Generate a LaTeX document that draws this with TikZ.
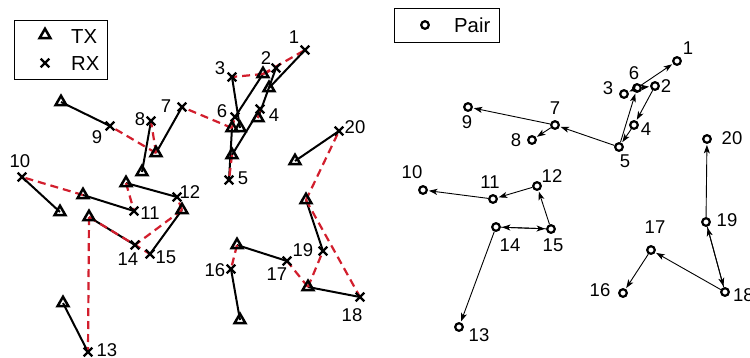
\documentclass[tikz,border=0pt]{standalone}
\usepackage{fontspec}
\setmainfont{Liberation Sans}
\usetikzlibrary{shapes.geometric,shapes.misc,arrows.meta}
\pgfdeclarelayer{bg}
\pgfdeclarelayer{lines}
\pgfsetlayers{bg,lines,main}
\definecolor{dred}{RGB}{210,30,45}
\tikzset{
 tx/.style={regular polygon, regular polygon sides=3, draw, line width=2.5pt, minimum size=12.5pt, inner sep=0pt},
 rx/.style={cross out, draw, line width=2.2pt, minimum size=6.5pt, inner sep=0pt},
 pr/.style={circle, draw, line width=2.2pt, minimum size=7.6pt, inner sep=0pt},
 lbl/.style={inner sep=0pt, font=\fontsize{18.5}{20}\selectfont},
 legtxt/.style={inner sep=0pt, anchor=west, font=\fontsize{20.3}{22}\selectfont},
 link/.style={line width=2pt, black},
 intf/.style={line width=2.2pt, dred, dash pattern=on 8pt off 5pt},
 arr/.style={line width=0.9pt, -{Stealth[length=8.5pt,width=6pt,inset=2.2pt]}, shorten >=1pt},
 legbox/.style={draw, line width=0.8pt, inner sep=0pt}
}
\begin{document}
\begin{tikzpicture}[x=1pt,y=-1pt]
\begin{pgfonlayer}{bg}
\fill[white] (0,0) rectangle (750,357);
\end{pgfonlayer}
\useasboundingbox (0,0) rectangle (750,357);
% ---------- left panel: receivers ----------
\node[rx] (r1) at (305,50) {};
\node[rx] (r2) at (276,68) {};
\node[rx] (r3) at (232,77) {};
\node[rx] (r4) at (260,109) {};
\node[rx] (r5) at (229,180) {};
\node[rx] (r6) at (235,117) {};
\node[rx] (r7) at (182,107) {};
\node[rx] (r8) at (151,121) {};
\node[rx] (r9) at (110,126) {};
\node[rx] (r10) at (22,177) {};
\node[rx] (r11) at (134,211) {};
\node[rx] (r12) at (177,197) {};
\node[rx] (r13) at (88,352) {};
\node[rx] (r14) at (135,245) {};
\node[rx] (r15) at (150,254) {};
\node[rx] (r16) at (231,269) {};
\node[rx] (r17) at (287,261) {};
\node[rx] (r18) at (360,297) {};
\node[rx] (r19) at (323,251) {};
\node[rx] (r20) at (339,131) {};
% ---------- left panel: transmitters ----------
\node[tx] (t1) at (269,88) {};
\node[tx] (t2) at (258,118) {};
\node[tx] (t3) at (240,128) {};
\node[tx] (t4) at (232,155) {};
\node[tx] (t5) at (232,128) {};
\node[tx] (t6) at (263,74) {};
\node[tx] (t7) at (156,153) {};
\node[tx] (t8) at (142,172) {};
\node[tx] (t9) at (61,102) {};
\node[tx] (t10) at (60,212) {};
\node[tx] (t11) at (83,195) {};
\node[tx] (t12) at (126,183) {};
\node[tx] (t13) at (63,303) {};
\node[tx] (t14) at (89,217) {};
\node[tx] (t15) at (182,210) {};
\node[tx] (t16) at (240,320) {};
\node[tx] (t17) at (237,245) {};
\node[tx] (t18) at (308,287) {};
\node[tx] (t19) at (306,200) {};
\node[tx] (t20) at (295,161) {};
% ---------- left labels ----------
\node[lbl] (la1) at (294,37) {1};
\node[lbl] (la2) at (266,58) {2};
\node[lbl] (la3) at (220,68) {3};
\node[lbl] (la4) at (274,115) {4};
\node[lbl] (la5) at (243,178) {5};
\node[lbl] (la6) at (222,111) {6};
\node[lbl] (la7) at (166,106) {7};
\node[lbl] (la8) at (140,119) {8};
\node[lbl] (la9) at (97,137) {9};
\node[lbl] (la10) at (20,161) {10};
\node[lbl] (la11) at (150,213) {11};
\node[lbl] (la12) at (190,192) {12};
\node[lbl] (la13) at (107,350) {13};
\node[lbl] (la14) at (128,259) {14};
\node[lbl] (la15) at (166,257) {15};
\node[lbl] (la16) at (215,270) {16};
\node[lbl] (la17) at (277,274) {17};
\node[lbl] (la18) at (352,315) {18};
\node[lbl] (la19) at (303,250) {19};
\node[lbl] (la20) at (355,127) {20};
% ---------- left legend ----------
\node[legbox, minimum width=93pt, minimum height=59pt] (legL) at (60.7,49.5) {};
\node[tx] (legtx) at (45,35) {};
\node[rx] (legrx) at (45,63) {};
\node[legtxt] (legtxl) at (71,37) {TX};
\node[legtxt] (legrxl) at (71,64) {RX};
\begin{pgfonlayer}{lines}
\foreach \i in {1,...,20} { \draw[link] (t\i.center) -- (r\i.center); }
\foreach \a/\b in {6/1,6/2,6/3,2/4,4/5,5/6,5/7,7/9,7/8,11/10,12/11,15/12,14/15,15/14,14/13,17/16,18/17,18/19,19/18,19/20}
  { \draw[intf] (t\a.center) -- (r\b.center); }
\end{pgfonlayer}
% ---------- right panel ----------
\node[pr] (p1) at (677,61) {};
\node[pr] (p2) at (655,86) {};
\node[pr] (p3) at (624,94) {};
\node[pr] (p4) at (634,125) {};
\node[pr] (p5) at (619,147) {};
\node[pr] (p6) at (637,88) {};
\node[pr] (p7) at (555,125) {};
\node[pr] (p8) at (532,140) {};
\node[pr] (p9) at (468,107) {};
\node[pr] (p10) at (423,190) {};
\node[pr] (p11) at (493,199) {};
\node[pr] (p12) at (537,186) {};
\node[pr] (p13) at (459,327) {};
\node[pr] (p14) at (496,227) {};
\node[pr] (p15) at (551,229) {};
\node[pr] (p16) at (623,293) {};
\node[pr] (p17) at (651,250) {};
\node[pr] (p18) at (725,292) {};
\node[pr] (p19) at (706,222) {};
\node[pr] (p20) at (707,139) {};
\node[lbl] (lb1) at (688,48) {1};
\node[lbl] (lb2) at (666,86) {2};
\node[lbl] (lb3) at (608,88) {3};
\node[lbl] (lb4) at (646,129) {4};
\node[lbl] (lb5) at (625,161) {5};
\node[lbl] (lb6) at (634,73) {6};
\node[lbl] (lb7) at (555,108) {7};
\node[lbl] (lb8) at (516,140) {8};
\node[lbl] (lb9) at (467,122) {9};
\node[lbl] (lb10) at (412,172) {10};
\node[lbl] (lb11) at (490,182) {11};
\node[lbl] (lb12) at (552,176) {12};
\node[lbl] (lb13) at (479,335) {13};
\node[lbl] (lb14) at (510,245) {14};
\node[lbl] (lb15) at (553,245) {15};
\node[lbl] (lb16) at (600,290) {16};
\node[lbl] (lb17) at (655,227) {17};
\node[lbl, anchor=west] (lb18) at (733,295) {18};
\node[lbl] (lb19) at (727,220) {19};
\node[lbl] (lb20) at (732,138) {20};
% ---------- right legend ----------
\node[legbox, minimum width=105pt, minimum height=34pt] (legR) at (446.5,25) {};
\node[pr] (legpr) at (425,25) {};
\node[legtxt] (legprl) at (454,25) {Pair};
\foreach \a/\b in {6/1,6/2,6/3,2/4,4/5,5/6,5/7,7/9,7/8,11/10,12/11,15/12,14/15,15/14,14/13,17/16,18/17,18/19,19/18,19/20}
  { \draw[arr] (p\a) -- (p\b); }
\end{tikzpicture}
\end{document}
